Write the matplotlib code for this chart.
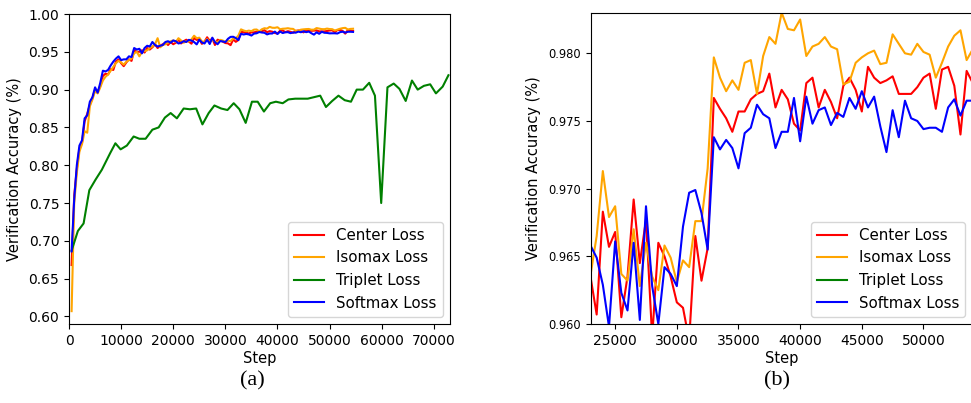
import numpy as np
import matplotlib
matplotlib.use("Agg")
import matplotlib.pyplot as plt

# ---------------- data ----------------
steps = list(range(500, 55000, 500))  # 500 .. 54500

center_loss = [
    0.668, 0.760, 0.795, 0.822, 0.830, 0.858, 0.868, 0.880, 0.889, 0.900,
    0.897, 0.905, 0.918, 0.921, 0.920, 0.927, 0.926, 0.937, 0.940, 0.935,
    0.931, 0.936, 0.940, 0.938, 0.952, 0.950, 0.950, 0.952, 0.949, 0.955,
    0.953, 0.956, 0.960, 0.955, 0.958, 0.960, 0.962, 0.959, 0.963, 0.960,
    0.962, 0.966, 0.961, 0.964, 0.966,
    0.9635, 0.9607, 0.9683, 0.9657, 0.9668, 0.9605, 0.9635, 0.9692, 0.9645, 0.9677,
    0.9590, 0.9660, 0.9650, 0.9635, 0.9616, 0.9612, 0.9588, 0.9665, 0.9632, 0.9656,
    0.9767, 0.9759, 0.9752, 0.9742, 0.9757, 0.9757, 0.9766, 0.9770, 0.9772, 0.9785,
    0.9760, 0.9773, 0.9766, 0.9748, 0.9743, 0.9778, 0.9782, 0.9760, 0.9773, 0.9764,
    0.9752, 0.9776, 0.9782, 0.9773, 0.9757, 0.9790, 0.9782, 0.9778, 0.9780, 0.9783,
    0.9770, 0.9770, 0.9770, 0.9775, 0.9782, 0.9785, 0.9759, 0.9788, 0.9790, 0.9776,
    0.9740, 0.9787, 0.9778, 0.9775,
]

isomax_loss = [
    0.607, 0.750, 0.790, 0.818, 0.828, 0.845, 0.843, 0.878, 0.887, 0.898,
    0.895, 0.903, 0.912, 0.917, 0.920, 0.925, 0.930, 0.935, 0.938, 0.936,
    0.933, 0.937, 0.939, 0.941, 0.948, 0.950, 0.944, 0.950, 0.951, 0.952,
    0.955, 0.957, 0.960, 0.968, 0.956, 0.959, 0.960, 0.962, 0.964, 0.965,
    0.963, 0.968, 0.965, 0.962, 0.964,
    0.9636, 0.9665, 0.9713, 0.9679, 0.9687, 0.9637, 0.9632, 0.9670, 0.9628, 0.9660,
    0.9635, 0.9625, 0.9658, 0.9649, 0.9631, 0.9647, 0.9642, 0.9676, 0.9676, 0.9715,
    0.9797, 0.9782, 0.9772, 0.9780, 0.9773, 0.9793, 0.9795, 0.9770, 0.9798, 0.9812,
    0.9807, 0.9830, 0.9818, 0.9817, 0.9825, 0.9798, 0.9805, 0.9807, 0.9812, 0.9805,
    0.9803, 0.9777, 0.9779, 0.9793, 0.9797, 0.9800, 0.9802, 0.9792, 0.9793, 0.9814,
    0.9807, 0.9800, 0.9799, 0.9807, 0.9801, 0.9799, 0.9782, 0.9793, 0.9805, 0.9813,
    0.9817, 0.9795, 0.9803, 0.9805,
]

softmax_loss = [
    0.686, 0.755, 0.800, 0.826, 0.833, 0.862, 0.866, 0.884, 0.890, 0.903,
    0.896, 0.909, 0.925, 0.924, 0.926, 0.932, 0.937, 0.941, 0.944, 0.939,
    0.940, 0.940, 0.944, 0.943, 0.955, 0.953, 0.954, 0.948, 0.955, 0.958,
    0.957, 0.963, 0.959, 0.957, 0.958, 0.959, 0.963, 0.964, 0.962, 0.965,
    0.964, 0.961, 0.962, 0.964, 0.963,
    0.9658, 0.9649, 0.9629, 0.9598, 0.9661, 0.9623, 0.9610, 0.9660, 0.9603, 0.9687,
    0.9628, 0.9600, 0.9642, 0.9637, 0.9628, 0.9672, 0.9697, 0.9699, 0.9682, 0.9655,
    0.9738, 0.9729, 0.9736, 0.9730, 0.9715, 0.9741, 0.9745, 0.9762, 0.9755, 0.9752,
    0.9730, 0.9742, 0.9742, 0.9767, 0.9735, 0.9768, 0.9748, 0.9758, 0.9760, 0.9747,
    0.9756, 0.9753, 0.9767, 0.9759, 0.9772, 0.9760, 0.9768, 0.9746, 0.9727, 0.9758,
    0.9738, 0.9765, 0.9752, 0.9750, 0.9744, 0.9745, 0.9745, 0.9742, 0.9760, 0.9766,
    0.9754, 0.9765, 0.9765, 0.9763,
]

triplet_steps = [
    500, 1700, 2800, 3900, 5100, 6300, 7900, 8900, 9900, 11100,
    12400, 13500, 14700, 16000, 17200, 18400, 19500, 20700, 22000, 23200,
    24400, 25600, 26800, 27900, 29200, 30400, 31600, 32700, 33900, 35100,
    36200, 37400, 38600, 39700, 41000, 42100, 43400, 44700, 45800, 47000,
    48200, 49300, 50500, 51700, 52900, 54100, 55200, 56400, 57600, 58700,
    59900, 61100, 62300, 63400, 64600, 65800, 66900, 68100, 69300, 70400,
    71700, 72800,
]
triplet_loss = [
    0.687, 0.713, 0.723, 0.767, 0.781, 0.794, 0.816, 0.829, 0.821, 0.826,
    0.838, 0.835, 0.835, 0.847, 0.850, 0.863, 0.869, 0.862, 0.875, 0.874,
    0.875, 0.854, 0.869, 0.879, 0.875, 0.873, 0.882, 0.874, 0.856, 0.884,
    0.884, 0.871, 0.882, 0.884, 0.882, 0.887, 0.888, 0.888, 0.888, 0.890,
    0.892, 0.877, 0.885, 0.892, 0.886, 0.884, 0.900, 0.900, 0.909, 0.892,
    0.750, 0.903, 0.908, 0.901, 0.885, 0.912, 0.900, 0.905, 0.907, 0.895,
    0.904, 0.919,
]

labels = ["Center Loss", "Isomax Loss", "Triplet Loss", "Softmax Loss"]
colors = ["red", "orange", "green", "blue"]

# ---------------- figure ----------------
W, H = 971, 403
fig = plt.figure(figsize=(W / 100, H / 100), dpi=100)

def px_axes(x0, y0, x1, y1):
    return fig.add_axes([x0 / W, 1 - y1 / H, (x1 - x0) / W, (y1 - y0) / H])

ax1 = px_axes(69, 14, 450, 324)
ax2 = px_axes(590.5, 12.7, 972.8, 324)

def draw(ax):
    ax.plot(steps, center_loss, color=colors[0], lw=1.5, label=labels[0])
    ax.plot(steps, isomax_loss, color=colors[1], lw=1.5, label=labels[1])
    ax.plot(triplet_steps, triplet_loss, color=colors[2], lw=1.5, label=labels[2])
    ax.plot(steps, softmax_loss, color=colors[3], lw=1.5, label=labels[3])
    ax.set_xlabel("Step", fontsize=10.5, labelpad=2)
    ax.set_ylabel("Verification Accuracy (%)", fontsize=10.5, labelpad=5)
    ax.legend(loc="lower right", fontsize=10.8)

draw(ax1)
ax1.set_xlim(0, 73100)
ax1.set_ylim(0.59, 1.0)
ax1.set_yticks(np.arange(0.60, 1.001, 0.05))
ax1.set_yticklabels([f"{v:.2f}" for v in np.arange(0.60, 1.001, 0.05)])
ax1.set_xticks(range(0, 70001, 10000))
ax1.tick_params(labelsize=10)

draw(ax2)
ax2.set_xlim(23000, 54000)
ax2.set_ylim(0.96, 0.983)
ax2.set_yticks(np.arange(0.960, 0.9801, 0.005))
ax2.set_yticklabels([f"{v:.3f}" for v in np.arange(0.960, 0.9801, 0.005)])
ax2.set_xticks(range(25000, 50001, 5000))
ax2.tick_params(axis="x", labelsize=10)
ax2.tick_params(axis="y", labelsize=8.3)

fig.text(252 / W, 1 - 381 / H, "(a)", ha="center", va="center",
         fontsize=16, family="Liberation Serif")
fig.text(777 / W, 1 - 381 / H, "(b)", ha="center", va="center",
         fontsize=16, family="Liberation Serif")

fig.savefig("out.png", dpi=100)
